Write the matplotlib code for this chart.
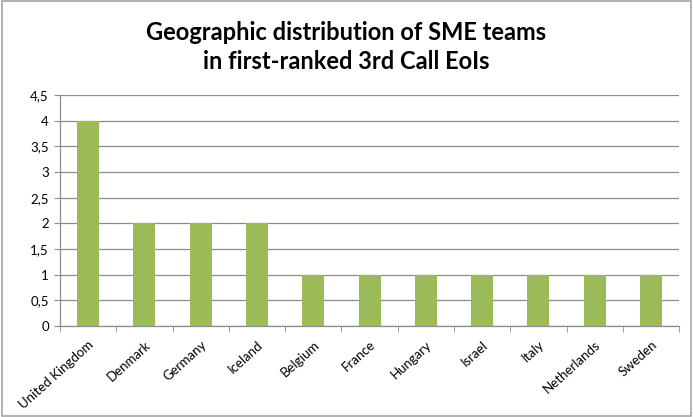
import numpy as np
import matplotlib.pyplot as plt
from matplotlib.patches import Rectangle

countries = ['United Kingdom', 'Denmark', 'Germany', 'Iceland', 'Belgium', 'France',
             'Hungary', 'Israel', 'Italy', 'Netherlands', 'Sweden']
teams = [4, 2, 2, 2, 1, 1, 1, 1, 1, 1, 1]
yticks = np.arange(0, 4.51, 0.5)

plt.rcParams['font.family'] = ['Lato', 'DejaVu Sans']

fig = plt.figure(figsize=(6.93, 4.17), dpi=100)
ax = fig.add_axes([0.0866, 0.218, 0.8934, 0.554])

x = np.arange(len(countries))
ax.bar(x, teams, width=0.39, color='#9BBB59', zorder=3)

ax.set_xlim(-0.5, len(countries) - 0.5)
ax.set_ylim(0, 4.5)
ax.set_yticks(yticks)
ax.set_yticklabels([f'{v:g}'.replace('.', ',') for v in yticks], fontsize=9.5)
ax.yaxis.grid(True, color='#8C8C8C', linewidth=0.9, zorder=0)
ax.tick_params(axis='y', length=4, color='#8C8C8C', pad=4)

ax.set_xticks(x)
ax.set_xticklabels(countries, rotation=42, ha='right', rotation_mode='anchor', fontsize=9.5)
ax.set_xticks(np.arange(-0.5, len(countries)), minor=True)
ax.tick_params(axis='x', which='major', length=0, pad=9)
ax.tick_params(axis='x', which='minor', length=4, color='#8C8C8C')

for s in ['top', 'right']:
    ax.spines[s].set_visible(False)
for s in ['left', 'bottom']:
    ax.spines[s].set_color('#8C8C8C')
    ax.spines[s].set_linewidth(0.9)

fig.text(0.5, 0.888, 'Geographic distribution of SME teams\nin first-ranked 3rd Call EoIs',
         ha='center', va='center', fontsize=17, fontweight='bold', linespacing=1.3)

fig.patches.append(Rectangle((0.003, 0.003), 0.994, 0.994, transform=fig.transFigure,
                             fill=False, edgecolor='#A6A6A6', linewidth=1.2))

fig.savefig('out.png', dpi=100)
